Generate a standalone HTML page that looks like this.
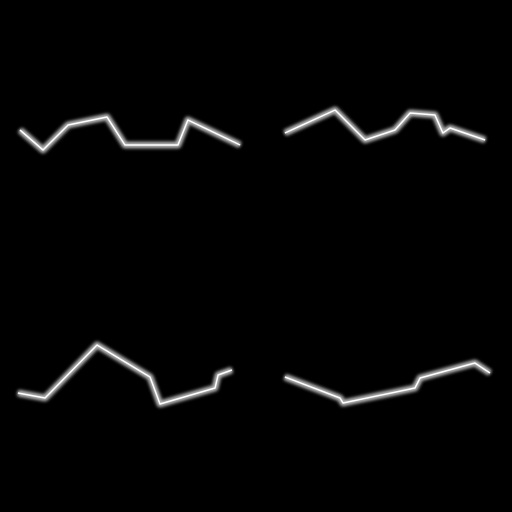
<!DOCTYPE html>
<html><head><meta charset="utf-8"><style>
html,body{margin:0;padding:0;background:#000;width:512px;height:512px;overflow:hidden}
</style></head><body>
<svg id="chart" width="512" height="512" viewBox="0 0 512 512">
<defs><filter id="b" x="-10%" y="-50%" width="120%" height="200%"><feGaussianBlur stdDeviation="1.6"/></filter></defs>
<rect width="512" height="512" fill="#000"/>
</svg>
<script>
const p1x=[7.8,16.8,26.6,41.8,48.8,69.5,73.4,93.8];
const p1y=[30,10,35,43,15,15,40,15];
const p2x=[11.3,30.9,42.6,54.3,60.2,69.9,73,75.8,89.5];
const p2y=[27,50,20,30,47,45,27,32,20];
const p3x=[7,17.6,37.9,58.6,62.5,84,85.2,90.6];
const p3y=[27,22,75,43,16,32,45,50];
const p4x=[11.3,32.8,34,62.1,64.1,85.5,91.4];
const p4y=[43,22,17,32,42,57,47];
const panels=[[p1x,p1y,0,160],[p2x,p2y,256,160],[p3x,p3y,0,420],[p4x,p4y,256,420]];
const svg=document.getElementById('chart');
const NS='http://www.w3.org/2000/svg';
panels.forEach((p,i)=>{
  const xs=u=>p[2]+u*2.56, ys=v=>p[3]-v;
  const pts=p[0].map((u,k)=>xs(u)+','+ys(p[1][k])).join(' ');
  const g=document.createElementNS(NS,'g');
  
  
  [[7,'#777',1],[4,'#bbb',1],[1.5,'#fff',0]].forEach(s=>{
    const l=document.createElementNS(NS,'polyline');
    
    
    l.setAttribute('points',pts);
    l.setAttribute('fill','none');
    l.setAttribute('stroke',s[1]);
    l.setAttribute('stroke-width',s[0]);
    l.setAttribute('stroke-linejoin','round');
    if(s[2])l.setAttribute('filter','url(#b)');
    g.appendChild(l);
  });
  svg.appendChild(g);
});
</script>
</body></html>
